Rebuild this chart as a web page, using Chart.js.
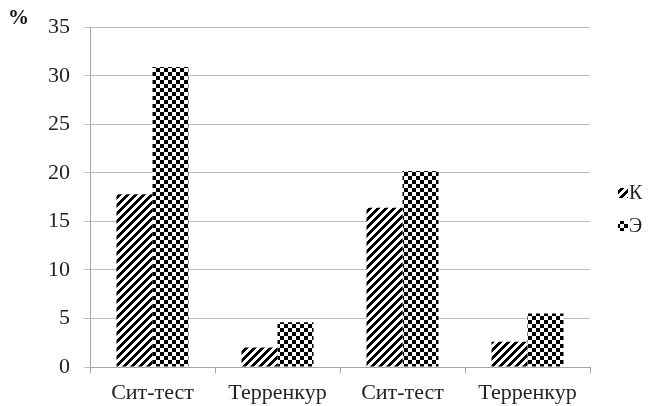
<!DOCTYPE html>
<html>
<head>
<meta charset="utf-8">
<script src="https://cdn.jsdelivr.net/npm/chart.js@4/dist/chart.umd.min.js"></script>
<style>
  html, body { margin: 0; padding: 0; background: #fff; }
  #wrap { width: 652px; height: 406px; position: relative; }
</style>
</head>
<body>
<div id="wrap"><canvas id="c" width="652" height="406"></canvas></div>
<script>
// Test categories (two groups of tests)
const categories = ['Сит-тест', 'Терренкур', 'Сит-тест', 'Терренкур'];
// Series values, %
const seriesK = [17.8, 2.0, 16.4, 2.6];
const seriesE = [30.9, 4.6, 20.2, 5.5];
const seriesNames = ['К', 'Э'];
// Y axis range and step
const yMin = 0, yMax = 35, yStep = 5;

const SERIF = '"Liberation Serif", "Times New Roman", serif';

// 8x8 tile: wide upward diagonal stripes
function stripePattern() {
  const t = document.createElement('canvas');
  t.width = 8; t.height = 8;
  const g = t.getContext('2d');
  const img = g.createImageData(8, 8);
  for (let y = 0; y < 8; y++) {
    for (let x = 0; x < 8; x++) {
      const on = ((x + y) % 8) < 4;
      const i = (y * 8 + x) * 4;
      const v = on ? 0 : 255;
      img.data[i] = v; img.data[i + 1] = v; img.data[i + 2] = v; img.data[i + 3] = 255;
    }
  }
  g.putImageData(img, 0, 0);
  return g.createPattern(t, 'repeat');
}

// 8x8 tile: large checkerboard
function checkerPattern() {
  const t = document.createElement('canvas');
  t.width = 8; t.height = 8;
  const g = t.getContext('2d');
  g.fillStyle = '#fff';
  g.fillRect(0, 0, 8, 8);
  g.fillStyle = '#000';
  g.fillRect(0, 0, 4, 4);
  g.fillRect(4, 4, 4, 4);
  return g.createPattern(t, 'repeat');
}

const fills = [stripePattern(), checkerPattern()];

// Legend on the right and the "%" unit mark at top left
const extras = {
  id: 'extras',
  afterDraw(chart) {
    const ctx = chart.ctx;
    ctx.save();
    ctx.fillStyle = '#111';
    ctx.font = 'bold 21px ' + SERIF;
    ctx.textAlign = 'left';
    ctx.textBaseline = 'middle';
    ctx.fillText('%', 8, 19);

    const items = [
      { y: 193, label: seriesNames[0], fill: fills[0] },
      { y: 226, label: seriesNames[1], fill: fills[1] }
    ];
    ctx.font = '20px ' + SERIF;
    items.forEach(it => {
      ctx.fillStyle = it.fill;
      ctx.fillRect(618, it.y - 5, 10, 10);
      ctx.fillStyle = '#222';
      ctx.fillText(it.label, 629, it.y + 1);
    });
    ctx.restore();
  }
};

new Chart(document.getElementById('c'), {
  type: 'bar',
  data: {
    labels: categories,
    datasets: [
      { label: seriesNames[0], data: seriesK, backgroundColor: fills[0], borderWidth: 0 },
      { label: seriesNames[1], data: seriesE, backgroundColor: fills[1], borderWidth: 0 }
    ]
  },
  options: {
    responsive: false,
    animation: false,
    devicePixelRatio: 1,
    layout: { autoPadding: false, padding: { top: 22, right: 62, left: 0, bottom: 0 } },
    datasets: { bar: { categoryPercentage: 0.576, barPercentage: 1 } },
    plugins: { legend: { display: false }, tooltip: { enabled: false } },
    scales: {
      x: {
        afterFit(s) { s.height = 39; },
        grid: { drawOnChartArea: false, drawTicks: true, tickLength: 6, color: '#a6a6a6', offset: true },
        border: { display: true, color: '#a6a6a6', width: 1 },
        ticks: { color: '#222', font: { family: SERIF, size: 22 }, padding: 7, maxRotation: 0 }
      },
      y: {
        min: yMin, max: yMax,
        afterFit(s) { s.width = 90; },
        grid: { color: '#bdbdbd', tickLength: 6, drawTicks: true },
        border: { display: true, color: '#a6a6a6', width: 1 },
        ticks: { stepSize: yStep, color: '#222', font: { family: SERIF, size: 22 }, padding: 14 }
      }
    }
  },
  plugins: [extras]
});
</script>
</body>
</html>
